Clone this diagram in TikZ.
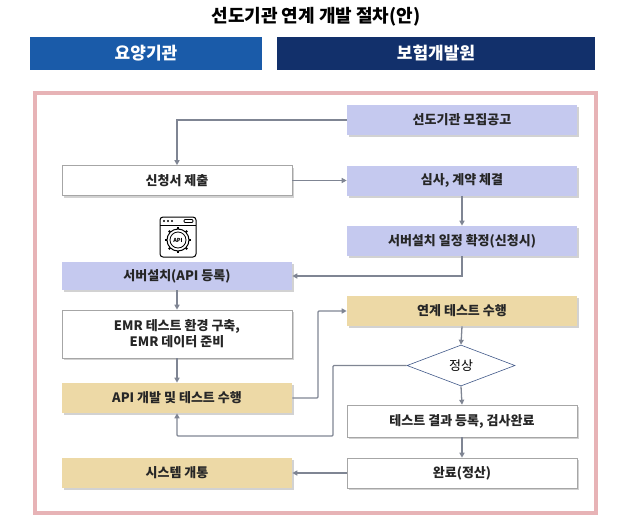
\documentclass[tikz,border=0pt]{standalone}
\usepackage{fontspec}
\setmainfont{Noto Sans CJK KR}
\usetikzlibrary{shapes.geometric,arrows.meta,shadows,calc}
\definecolor{lav}{HTML}{C5C9EF}
\definecolor{tan}{HTML}{EDD9A6}
\definecolor{hblue}{HTML}{1A5BA9}
\definecolor{hnavy}{HTML}{12306B}
\definecolor{frame}{HTML}{E7B3B6}
\definecolor{arr}{HTML}{7F8593}
\tikzset{
 box/.style={draw=gray!70,line width=0.6pt,minimum width=230pt,minimum height=30pt,inner sep=2pt,align=center,text=black!85,font=\fontsize{13}{16}\selectfont\bfseries,drop shadow={shadow xshift=2pt,shadow yshift=-2pt,fill=black!35}},
 lavbox/.style={box,fill=lav,draw=none},
 tanbox/.style={box,fill=tan,draw=none},
 whitebox/.style={box,fill=white},
 con/.style={draw=arr,line width=1.3pt,-{Triangle[length=5pt,width=5pt]}},
 hdr/.style={minimum height=33pt,text=white,font=\fontsize{17}{19}\selectfont\bfseries,inner sep=0pt}
}
\begin{document}
\begin{tikzpicture}[x=1pt,y=-1pt]
\useasboundingbox (0,0) rectangle (633,523);
\node (title) at (316,17) {\fontsize{18}{20}\selectfont\bfseries 선도기관 연계 개발 절차(안)};
\node[hdr,fill=hblue,minimum width=232pt] (h1) at (146,53.5) {요양기관};
\node[hdr,fill=hnavy,minimum width=318pt] (h2) at (436,53.5) {보험개발원};
\draw[frame,line width=4pt] (35,93) rectangle (596,513);
\node[lavbox] (a1) at (462,120) {선도기관 모집공고};
\node[whitebox] (b1) at (177,180.5) {신청서 제출};
\node[lavbox] (a2) at (462,180.5) {심사, 계약 체결};
\node[lavbox] (a3) at (462,241) {서버설치 일정 확정(신청시)};
\node[lavbox,minimum height=28pt] (b2) at (177,276) {서버설치(API 등록)};
\node[whitebox,minimum height=48pt] (b3) at (177,334) {EMR 테스트 환경 구축,\\EMR 데이터 준비};
\node[tanbox] (b4) at (177,398) {API 개발 및 테스트 수행};
\node[tanbox] (a4) at (462,311) {연계 테스트 수행};
\node[diamond,draw=hnavy!80,line width=0.6pt,fill=white,minimum width=108pt,minimum height=41pt,aspect=2.6,inner sep=0pt,font=\fontsize{13}{16}\selectfont] (d) at (461,365.5) {정상};
\node[whitebox,minimum height=32pt] (a5) at (462,421) {테스트 결과 등록, 검사완료};
\node[whitebox] (a6) at (462,473) {완료(정산)};
\node[tanbox] (b5) at (177,473) {시스템 개통};
% icon
\node[draw,line width=1pt,rounded corners=3pt,minimum width=36pt,minimum height=40pt] (icon) at (178,237) {};
\draw[line width=1pt] (160,225) -- (196,225);
\foreach \dx in {164,168,172} \fill (\dx,221) circle (1.2pt);
\draw[line width=0.8pt,rounded corners=1pt] (184,219.5) rectangle (193,222.5);
\foreach \a in {0,45,...,315} \draw[line width=2pt] ($(178,240)+(\a:10)$) -- ($(178,240)+(\a:13)$);
\draw[line width=1pt,fill=white] (178,240) circle (11pt);
\draw[line width=0.8pt] (178,240) circle (8pt);
\node[font=\fontsize{5.5}{6}\selectfont\bfseries] (apitxt) at (178,240) {API};
% connectors
\draw[con] (a1.west) -| (b1.north);
\draw[con] (b1.east) -- (a2.west);
\draw[con] (a2.south) -- (a3.north);
\draw[con] (a3.south) |- (b2.east);
\draw[con] (b2.south) -- (b3.north);
\draw[con] (b3.south) -- (b4.north);
\draw[con,rounded corners=1pt] (b4.east) -- (318,398) -- (318,311) -- (a4.west);
\draw[con] (a4.south) -- (d.north);
\draw[con] (d.south) -- (a5.north);
\draw[con,rounded corners=1pt] (d.west) -- (333,365.5) -- (333,436) -- (177,436) -- (b4.south);
\draw[con] (a5.south) -- (a6.north);
\draw[con] (a6.west) -- (b5.east);
\end{tikzpicture}
\end{document}
